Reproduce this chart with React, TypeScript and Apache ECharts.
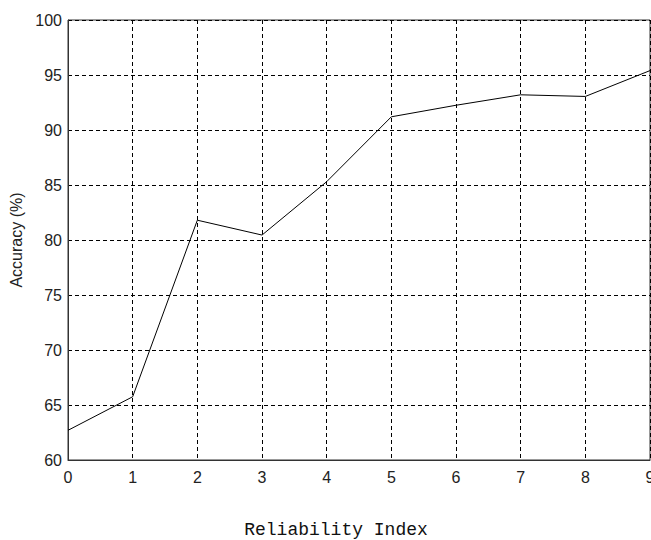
import React, { useEffect, useRef } from "react";
import * as echarts from "echarts";

const xValues = [0, 1, 2, 3, 4, 5, 6, 7, 8, 9];
const accuracy = [62.7, 65.75, 81.8, 80.45, 85.3, 91.2, 92.25, 93.2, 93.05, 95.4];
const xTitle = "Reliability Index";
const yTitle = "Accuracy (%)";

export default function App() {
  const ref = useRef<HTMLDivElement>(null);
  useEffect(() => {
    if (!ref.current) return;
    const chart = echarts.init(ref.current, undefined, { renderer: "svg" });
    chart.setOption({
      animation: false,
      backgroundColor: "#ffffff",
      grid: {
        left: 68,
        right: 1,
        top: 20,
        bottom: 80,
        containLabel: false,
        outerBoundsMode: "none",
        show: true,
        borderColor: "#333",
        borderWidth: 1,
        backgroundColor: "transparent",
      },
      xAxis: {
        type: "value",
        min: 0,
        max: 9,
        interval: 1,
        axisLine: { show: true, lineStyle: { color: "#333", width: 1 } },
        axisTick: { show: false },
        axisLabel: {
          color: "#222",
          fontSize: 16,
          fontFamily: "Liberation Sans, Arial, sans-serif",
          margin: 9,
        },
        splitLine: {
          show: true,
          lineStyle: { color: "#000", type: [4, 3], width: 1 },
        },
      },
      yAxis: {
        type: "value",
        min: 60,
        max: 100,
        interval: 5,
        name: yTitle,
        nameLocation: "middle",
        nameGap: 44,
        nameTextStyle: {
          color: "#222",
          fontSize: 16,
          fontFamily: "Liberation Sans, Arial, sans-serif",
        },
        axisLine: { show: true, lineStyle: { color: "#333", width: 1 } },
        axisTick: { show: false },
        axisLabel: {
          color: "#222",
          fontSize: 16,
          fontFamily: "Liberation Sans, Arial, sans-serif",
          margin: 6,
        },
        splitLine: {
          show: true,
          lineStyle: { color: "#000", type: [4, 3], width: 1 },
        },
      },
      graphic: [
        {
          type: "text",
          x: 336,
          y: 530,
          style: {
            text: xTitle,
            fill: "#111",
            fontSize: 18,
            fontFamily: "Liberation Mono, Courier New, monospace",
            textAlign: "center",
            textVerticalAlign: "middle",
          },
        },
      ],
      series: [
        {
          type: "line",
          data: xValues.map((x, i) => [x, accuracy[i]]),
          showSymbol: false,
          lineStyle: { color: "#000", width: 1 },
          z: 5,
        },
      ],
    });
    return () => chart.dispose();
  }, []);
  return <div ref={ref} style={{ width: 651, height: 540, position: "absolute", left: 0, top: 0 }} />;
}
